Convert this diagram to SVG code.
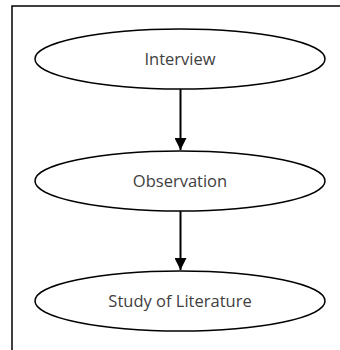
<svg xmlns="http://www.w3.org/2000/svg" width="340" height="350" viewBox="0 0 340 350">
<style>
.node ellipse{fill:#fff;stroke:#000;stroke-width:1.5}
.node text{font-family:"Open Sans","Liberation Sans",sans-serif;font-size:16.5px;fill:#404040;text-anchor:middle}
.conn line{stroke:#000;stroke-width:2}
</style>
<defs>
<marker id="ah" viewBox="0 0 10 10" refX="10" refY="5" markerWidth="6" markerHeight="6" markerUnits="strokeWidth" orient="auto">
<path d="M0,0 L10,5 L0,10 Z" fill="#000"/>
</marker>
</defs>
<rect x="0" y="0" width="340" height="350" fill="#fff"/>
<path d="M12,350 L12,6 L340,6" fill="none" stroke="#000" stroke-width="1.5"/>
<g class="conn">
<line x1="180.5" y1="89" x2="180.5" y2="150" marker-end="url(#ah)"/>
<line x1="180.5" y1="211" x2="180.5" y2="270" marker-end="url(#ah)"/>
</g>
<g id="interview" class="node">
<ellipse cx="180" cy="59" rx="145" ry="30"/>
<text x="180" y="65">Interview</text>
</g>
<g id="observation" class="node">
<ellipse cx="180" cy="181" rx="145" ry="30"/>
<text x="180" y="187">Observation</text>
</g>
<g id="literature" class="node">
<ellipse cx="180" cy="301" rx="145" ry="30"/>
<text x="180" y="307">Study of Literature</text>
</g>
</svg>
